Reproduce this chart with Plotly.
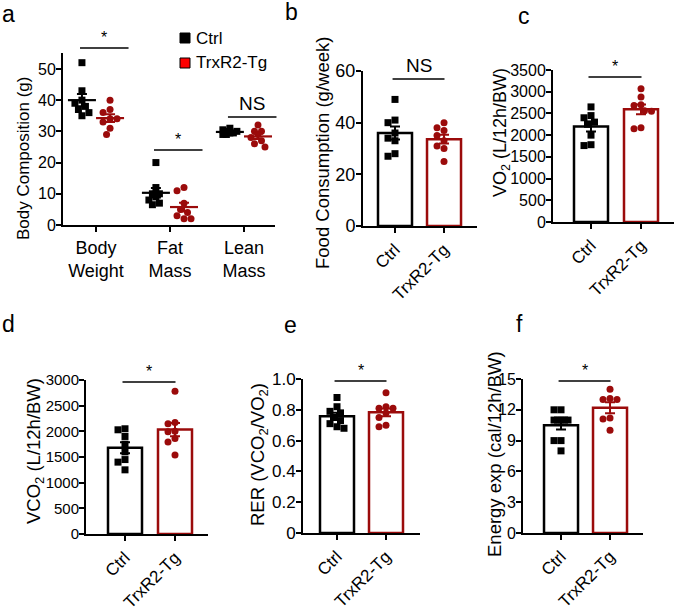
import numpy as np
import plotly.graph_objects as go

W, H = 674, 612
FONT = "Liberation Sans, Arial, sans-serif"
BLACK = "#000000"
DARKRED = "#9B0B0B"
LEGRED = "#FF0000"

# ---------------- data ----------------
groups = ["Ctrl", "TrxR2-Tg"]
comp_categories = ["Body<br>Weight", "Fat<br>Mass", "Lean<br>Mass"]

body_ctrl = [52, 43, 40, 39, 38, 37, 36, 35]
body_trx = [40, 37, 36, 34, 34, 33, 31, 29]
fat_ctrl = [20, 12, 10, 10, 9, 8, 7, 6.5]
fat_trx = [12, 11, 7, 5, 4, 3, 2, 2]
lean_ctrl = [31, 30.5, 30, 30, 29.5, 29.5, 29, 29]
lean_trx = [32, 30, 30, 29, 28, 27, 26, 25]

food_ctrl = [49, 41, 40, 36, 34, 33, 28, 27]
food_trx = [40, 38, 37, 35, 33, 31, 30, 25]
vo2_ctrl = [2650, 2450, 2400, 2300, 2250, 2000, 1780, 1760]
vo2_trx = [3070, 2880, 2700, 2680, 2560, 2550, 2170, 2150]
vco2_ctrl = [2050, 2030, 1900, 1750, 1600, 1450, 1400, 1250]
vco2_trx = [2780, 2170, 2150, 2000, 1990, 1860, 1790, 1540]
rer_ctrl = [0.88, 0.82, 0.79, 0.78, 0.75, 0.73, 0.71, 0.69, 0.68]
rer_trx = [0.91, 0.82, 0.81, 0.81, 0.78, 0.75, 0.70, 0.69]
ee_ctrl = [12, 12, 11, 11, 11, 11, 11, 9, 9, 8]
ee_trx = [14, 13.1, 13, 13, 11.2, 11.1, 10]

comp_sig_labels = ["*", "*", "NS"]
comp_sig_heights = [56.7, 24.0, 34.6]
bar_sig_labels = {"b": "NS", "c": "*", "d": "*", "e": "*", "f": "*"}
bar_sig_heights = {"b": 56.9, "c": 3340, "d": 2960, "e": 0.987, "f": 14.8}

y_titles = {
    "a": "Body Composition (g)",
    "b": "Food Consumption (g/week)",
    "c": "VO<sub>2</sub> (L/12h/BW)",
    "d": "VCO<sub>2</sub> (L/12h/BW)",
    "e": "RER (VCO<sub>2</sub>/VO<sub>2</sub>)",
    "f": "Energy exp (cal/12h/BW)",
}

# ---------------- layout geometry (pixels) ----------------
panels = {
    "a": dict(n=1, xpx=(63, 275), ypx=(225, 53), xr=(-0.446, 2.42), yr=(0, 55.1),
              ticks=[0, 10, 20, 30, 40, 50], title_px=(24, 159), label_px=(8, 14),
              tfs=16, yfs=17, xfs=18),
    "b": dict(n=2, xpx=(363, 477), ypx=(226, 71), xr=(-0.653, 1.673), yr=(0, 60),
              ticks=[0, 20, 40, 60], title_px=(322, 153), label_px=(291, 12),
              tfs=18, yfs=18.5, xfs=17),
    "c": dict(n=3, xpx=(553, 674), ypx=(222, 70), xr=(-0.76, 1.66), yr=(0, 3500),
              ticks=list(range(0, 3501, 500)), title_px=(501, 133), label_px=(524, 16),
              tfs=16, yfs=18, xfs=17),
    "d": dict(n=4, xpx=(86, 208), ypx=(534, 380), xr=(-0.78, 1.66), yr=(0, 3000),
              ticks=list(range(0, 3001, 500)), title_px=(35, 451), label_px=(8, 324),
              tfs=15, yfs=18.5, xfs=17),
    "e": dict(n=5, xpx=(303, 420), ypx=(533, 379), xr=(-0.694, 1.694), yr=(0, 1.0),
              ticks=[0, 0.2, 0.4, 0.6, 0.8, 1.0], ticktext=["0", "0.2", "0.4", "0.6", "0.8", "1.0"],
              title_px=(259, 455), label_px=(290, 325), tfs=17, yfs=18.5, xfs=17),
    "f": dict(n=6, xpx=(523, 643), ypx=(533, 379), xr=(-0.776, 1.673), yr=(0, 15),
              ticks=[0, 3, 6, 9, 12, 15], title_px=(494, 454), label_px=(519, 324),
              tfs=16, yfs=18.5, xfs=17),
}


def px2paper(x, y):
    return x / W, 1 - y / H


def scales(p):
    sx = (p["xpx"][1] - p["xpx"][0]) / (p["xr"][1] - p["xr"][0])
    sy = (p["ypx"][0] - p["ypx"][1]) / (p["yr"][1] - p["yr"][0])
    return sx, sy


def data2paper(p, x, y):
    sx, sy = scales(p)
    xpx = p["xpx"][0] + (x - p["xr"][0]) * sx
    ypx = p["ypx"][0] - (y - p["yr"][0]) * sy
    return px2paper(xpx, ypx)


def swarm(vals, sx, sy, d=7.0, max_off=9.0):
    """Deterministic beeswarm offsets (in data units) limited to +-max_off px."""
    vals = np.asarray(vals, dtype=float)
    order = np.argsort(-vals, kind="stable")
    placed = []
    offs = np.zeros(len(vals))
    step = d * 0.5
    cands = [0.0]
    m = 1
    while m * step <= max_off + 1e-9:
        cands += [-m * step, m * step]
        m += 1
    for i in order:
        yy = vals[i] * sy
        best, best_score = 0.0, -1.0
        for dx in cands:
            md = min([np.hypot(dx - a, yy - b) for a, b in placed] + [1e9])
            if md >= d * 0.95:
                best = dx
                break
            if md > best_score + 0.5:
                best, best_score = dx, md
        placed.append((best, yy))
        offs[i] = best / sx
    return offs


def mean_sem(v):
    v = np.asarray(v, dtype=float)
    return v.mean(), v.std(ddof=1) / np.sqrt(len(v))


fig = go.Figure()
layout = dict(
    width=W, height=H, margin=dict(l=0, r=0, t=0, b=0),
    paper_bgcolor="white", plot_bgcolor="white", showlegend=False,
    font=dict(family=FONT, color="black", size=16),
)
annotations = []
shapes = []


def axis_names(n):
    return ("x" if n == 1 else f"x{n}"), ("y" if n == 1 else f"y{n}")


for key, p in panels.items():
    n = p["n"]
    xa, ya = axis_names(n)
    xk = "xaxis" if n == 1 else f"xaxis{n}"
    yk = "yaxis" if n == 1 else f"yaxis{n}"
    x0, _ = px2paper(p["xpx"][0], 0)
    x1, _ = px2paper(p["xpx"][1], 0)
    _, y0 = px2paper(0, p["ypx"][0])
    _, y1 = px2paper(0, p["ypx"][1])
    if key == "a":
        xtv, xtt, xangle = [0, 1, 2], comp_categories, 0
    else:
        xtv, xtt, xangle = [0, 1], groups, -45
    layout[xk] = dict(domain=[x0, x1], range=list(p["xr"]), anchor=ya, showgrid=False,
                      zeroline=False, showline=True, linecolor="black", linewidth=2,
                      ticks="outside", ticklen=5, tickwidth=2, tickcolor="black",
                      tickvals=xtv, ticktext=xtt, tickangle=xangle,
                      tickfont=dict(size=p["xfs"], family=FONT, color="black"),
                      automargin=False, fixedrange=True)
    layout[yk] = dict(domain=[y0, y1], range=list(p["yr"]), anchor=xa, showgrid=False,
                      zeroline=False, showline=True, linecolor="black", linewidth=2,
                      ticks="outside", ticklen=5, tickwidth=2, tickcolor="black",
                      tickvals=p["ticks"], ticktext=p.get("ticktext"),
                      ticklabelstandoff=-3,
                      tickfont=dict(size=p["tfs"], family=FONT, color="black"),
                      automargin=False, fixedrange=True)
    tx, ty = px2paper(*p["title_px"])
    annotations.append(dict(text=y_titles[key], x=tx, y=ty, xref="paper", yref="paper",
                            textangle=-90, showarrow=False, xanchor="center", yanchor="middle",
                            font=dict(size=p["yfs"], family=FONT, color="black")))
    lx, ly = px2paper(*p["label_px"])
    annotations.append(dict(text=key, x=lx, y=ly, xref="paper", yref="paper", showarrow=False,
                            xanchor="center", yanchor="middle",
                            font=dict(size=23, family=FONT, color="black")))

# ---------------- panel a: scatter with mean +- SEM ----------------
pa = panels["a"]
sxa, sya = scales(pa)
comp_ctrl = [body_ctrl, fat_ctrl, lean_ctrl]
comp_trx = [body_trx, fat_trx, lean_trx]
for ci, (vc, vt) in enumerate(zip(comp_ctrl, comp_trx)):
    for vals, off, color, sym in [(vc, -0.19, BLACK, "square"), (vt, 0.19, DARKRED, "circle")]:
        center = ci + off
        xs = center + swarm(vals, sxa, sya, d=7.0, max_off=8.0)
        fig.add_trace(go.Scatter(x=xs, y=vals, mode="markers", xaxis="x", yaxis="y",
                                 marker=dict(symbol=sym, size=7, color=color, line=dict(width=0)),
                                 cliponaxis=False, hoverinfo="skip"))
        m, s = mean_sem(vals)
        fig.add_trace(go.Scatter(x=[center], y=[m], mode="markers", xaxis="x", yaxis="y",
                                 marker=dict(symbol="line-ew", size=20, color=color,
                                             line=dict(width=2.2, color=color)),
                                 error_y=dict(type="data", array=[s], visible=True, color=color,
                                              thickness=2, width=5),
                                 cliponaxis=False, hoverinfo="skip"))
    lx0, ly = data2paper(pa, ci - 0.216, comp_sig_heights[ci])
    lx1, _ = data2paper(pa, ci + 0.44, comp_sig_heights[ci])
    shapes.append(dict(type="line", xref="paper", yref="paper", x0=lx0, x1=lx1, y0=ly, y1=ly,
                       line=dict(color="black", width=1.5)))
    lbl = comp_sig_labels[ci]
    annotations.append(dict(text=lbl, x=(lx0 + lx1) / 2, y=ly, xref="paper", yref="paper",
                            showarrow=False, xanchor="center", yanchor="bottom",
                            yshift=(0 if lbl == "*" else 1),
                            font=dict(size=(16 if lbl == "*" else 19), family=FONT, color="black")))

# legend (panel a)
for (gname, fill, ypx) in [(groups[0], BLACK, 38), (groups[1], LEGRED, 63)]:
    x0p, y0p = px2paper(180, ypx - 5)
    x1p, y1p = px2paper(190, ypx + 5)
    shapes.append(dict(type="rect", xref="paper", yref="paper", x0=x0p, x1=x1p, y0=y1p, y1=y0p,
                       fillcolor=fill, line=dict(color="black", width=1)))
    tx, ty = px2paper(194, ypx)
    annotations.append(dict(text=gname, x=tx, y=ty, xref="paper", yref="paper", showarrow=False,
                            xanchor="left", yanchor="middle",
                            font=dict(size=17, family=FONT, color="black")))

# ---------------- bar panels ----------------
bar_data = {
    "b": (food_ctrl, food_trx),
    "c": (vo2_ctrl, vo2_trx),
    "d": (vco2_ctrl, vco2_trx),
    "e": (rer_ctrl, rer_trx),
    "f": (ee_ctrl, ee_trx),
}
for key, (vc, vt) in bar_data.items():
    p = panels[key]
    xa, ya = axis_names(p["n"])
    sx, sy = scales(p)
    bw = 34 / sx
    for gi, (vals, color, sym) in enumerate([(vc, BLACK, "square"), (vt, DARKRED, "circle")]):
        m, s = mean_sem(vals)
        fig.add_trace(go.Bar(x=[gi], y=[m], width=bw, xaxis=xa, yaxis=ya,
                             marker=dict(color="white", line=dict(color=color, width=2.5)),
                             hoverinfo="skip"))
    for gi, (vals, color, sym) in enumerate([(vc, BLACK, "square"), (vt, DARKRED, "circle")]):
        xs = gi + swarm(vals, sx, sy, d=7.0, max_off=12.0)
        fig.add_trace(go.Scatter(x=xs, y=vals, mode="markers", xaxis=xa, yaxis=ya,
                                 marker=dict(symbol=sym, size=7, color=color, line=dict(width=0)),
                                 cliponaxis=False, hoverinfo="skip"))
        m, s = mean_sem(vals)
        fig.add_trace(go.Scatter(x=[gi], y=[m], mode="markers", xaxis=xa, yaxis=ya,
                                 marker=dict(symbol="line-ew", size=1, color=color,
                                             line=dict(width=0, color=color)),
                                 error_y=dict(type="data", array=[s], visible=True, color=color,
                                              thickness=2, width=5),
                                 cliponaxis=False, hoverinfo="skip"))
    lx0, ly = data2paper(p, -0.05, bar_sig_heights[key])
    lx1, _ = data2paper(p, 1.01, bar_sig_heights[key])
    shapes.append(dict(type="line", xref="paper", yref="paper", x0=lx0, x1=lx1, y0=ly, y1=ly,
                       line=dict(color="black", width=1.5)))
    lbl = bar_sig_labels[key]
    annotations.append(dict(text=lbl, x=(lx0 + lx1) / 2, y=ly, xref="paper", yref="paper",
                            showarrow=False, xanchor="center", yanchor="bottom",
                            yshift=(0 if lbl == "*" else 1),
                            font=dict(size=(16 if lbl == "*" else 19), family=FONT, color="black")))

layout["annotations"] = annotations
layout["shapes"] = shapes
layout["barmode"] = "overlay"
fig.update_layout(**layout)
fig.write_html("out.html", config={"displayModeBar": False},
               post_script="document.body.style.margin='0';document.body.style.overflow='hidden';")
